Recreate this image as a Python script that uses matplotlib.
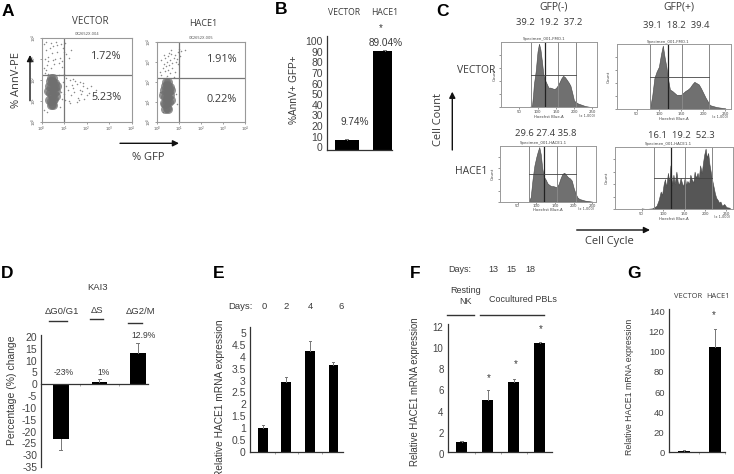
import matplotlib
matplotlib.use('Agg')
import matplotlib.pyplot as plt
from matplotlib.transforms import ScaledTranslation

W, H = 734, 474
TXT = '#3a3a3a'
ARIAL = 'Liberation Sans'
CALIBRI = 'Open Sans'

# panel A, flow cytometry, decades on both axes
vec_cluster_x = [.30, .38, .46, .54, .62, .34, .42, .50, .58, .66, .32, .40, .48, .56, .64, .36, .44, .52, .60, .42, .50, .46, .40, .52]
vec_cluster_y = [1.45, 1.35, 1.25, 1.35, 1.45, 1.7, 1.65, 1.6, 1.65, 1.7, 1.05, 1.0, 1.05, 1.1, 1.2, 1.95, 1.95, 1.9, 1.85, 2.1, 2.1, .85, .8, .8]
vec_sparse_x = [.1, .2, .35, .5, .7, .85, .95, 1.1, 1.3, .15, .3, .45, .6, .8, 1.0, 1.2, .25, .55, .75, .9, .4, .65, .3, .5, .9, .2, .7, 1.05, .12, .4,
                .95, 1.1, 1.25, 1.4, 1.55, 1.7, 1.85, 2.0, 2.2, 2.4, 1.0, 1.15, 1.3, 1.45, 1.6, 1.75, 1.9, 2.1, 2.3, 1.05, 1.2, 1.35, 1.5, 1.65, 1.8, 1.1, 1.4, 1.7, 2.0, 1.25, 1.55, 1.85,
                .15, .3, .75, .85, .1, .9, .25, .8, 1.0, .2]
vec_sparse_y = [3.7, 3.4, 3.5, 3.6, 3.3, 3.7, 3.5, 3.2, 3.4, 3.0, 3.1, 3.25, 3.0, 3.05, 3.3, 3.05, 2.7, 2.75, 2.8, 2.6, 3.75, 3.8, 2.9, 2.95, 2.9, 3.8, 3.65, 3.75, 2.55, 2.55,
                1.9, 1.7, 2.0, 1.6, 1.8, 1.5, 1.85, 1.6, 1.7, 1.5, 1.3, 1.5, 1.25, 1.4, 1.15, 1.3, 1.1, 1.35, 1.2, 1.05, 1.0, 1.75, 1.95, 1.05, 1.45, 2.1, 2.05, 1.9, 1.25, .9, .95, 1.7,
                2.3, 2.25, 2.2, 1.4, .55, 1.1, .45, .7, 2.25, 2.45]
hace_cluster_x = [.28, .36, .44, .52, .60, .32, .40, .48, .56, .64, .30, .38, .46, .54, .62, .36, .44, .52, .58, .40, .48, .44, .38, .50]
hace_cluster_y = [1.35, 1.25, 1.2, 1.25, 1.35, 1.6, 1.55, 1.5, 1.55, 1.6, .95, .9, .95, 1.0, 1.1, 1.8, 1.85, 1.8, 1.75, 2.0, 2.0, .7, .65, .65]
hace_sparse_x = [.2, .35, .5, .65, .8, .95, 1.1, 1.25, .3, .45, .6, .75, .9, 1.05, .25, .4, .55, .7, .85, .15, .35, .5, .7, .95, .2, .45, .6, .8, .3, .55, 1.0, .65, .4, .75, .9, .12, .25, .85]
hace_sparse_y = [3.1, 3.2, 3.3, 3.4, 3.35, 3.5, 3.55, 3.6, 2.9, 3.0, 3.1, 3.2, 3.15, 3.3, 2.7, 2.8, 2.85, 2.95, 3.0, 2.5, 2.55, 2.6, 2.7, 2.9, 2.35, 2.3, 2.45, 2.5, 3.35, 3.45, 3.65, 3.6, 2.2, 2.25, .9, 1.5, .5, 1.4]
decade_labels = ['10$^0$', '10$^1$', '10$^2$', '10$^3$', '10$^4$']

# panel B
b_groups = ['VECTOR', 'HACE1']
b_values = [10, 94]
b_errors = [0.8, 0.5]
b_ticks = [0, 10, 20, 30, 40, 50, 60, 70, 80, 90, 100]

# panel C, cell cycle histograms (percent of axis height)
tl_x = [80, 85, 88, 90, 95, 100, 104, 108, 112, 116, 120, 125, 130, 135, 140, 145, 150, 155, 160, 165, 170, 175, 180, 185, 190, 195, 200, 205, 210, 215, 220, 225, 230, 240, 250]
tl_y = [1, 3, 20, 35, 55, 85, 97, 88, 70, 50, 42, 36, 30, 30, 29, 28, 29, 33, 38, 44, 48, 46, 42, 38, 33, 22, 10, 8, 6, 5, 4, 3, 2, 1, 0]
tr_x = [80, 85, 90, 95, 100, 105, 109, 113, 117, 121, 125, 130, 135, 140, 145, 150, 155, 160, 165, 170, 175, 180, 185, 190, 195, 200, 205, 210, 215, 220, 225, 230, 240, 250]
tr_y = [1, 20, 48, 58, 65, 85, 98, 80, 65, 45, 30, 28, 25, 22, 22, 22, 25, 28, 30, 33, 38, 42, 40, 38, 32, 25, 18, 12, 6, 5, 4, 3, 2, 1]
bl_x = [80, 85, 90, 95, 100, 104, 108, 112, 116, 120, 125, 130, 135, 140, 145, 150, 155, 160, 165, 170, 175, 180, 185, 190, 195, 200, 205, 210, 215, 220, 225, 230, 240, 250]
bl_y = [1, 8, 40, 65, 80, 90, 98, 85, 60, 45, 40, 33, 30, 28, 28, 27, 26, 32, 42, 50, 52, 48, 44, 42, 38, 25, 15, 8, 5, 4, 3, 2, 1, 0]
br_x = [50, 60, 75, 85, 90, 95, 98, 102, 105, 108, 112, 115, 118, 122, 125, 128, 132, 135, 138, 142, 145, 148, 152, 155, 158, 162, 165, 168, 172, 175, 178, 182, 185, 188, 192, 195, 198, 201, 204, 207, 210, 213, 216, 220, 223, 226, 230, 233, 236, 240, 245, 250, 258]
br_y = [1, 0, 1, 5, 14, 28, 22, 40, 48, 35, 58, 42, 70, 38, 55, 40, 60, 44, 38, 50, 42, 36, 52, 38, 45, 40, 55, 48, 42, 60, 50, 58, 48, 70, 58, 75, 88, 97, 82, 90, 72, 60, 48, 35, 25, 18, 14, 10, 12, 5, 8, 3, 2]

# panel D
d_values = [-23, 1.1, 13]
d_errors = [4.8, 1, 4.5]
d_ticks = [20, 15, 10, 5, 0, -5, -10, -15, -20, -25, -30, -35]

# panel E
e_values = [1.03, 2.94, 4.22, 3.66]
e_errors = [0.11, 0.21, 0.43, 0.11]
e_ticks = [0, 0.5, 1, 1.5, 2, 2.5, 3, 3.5, 4, 4.5, 5]
e_ticklabels = ['0', '0.5', '1', '1.5', '2', '2.5', '3', '3.5', '4', '4.5', '5']

# panel F
f_values = [0.95, 4.93, 6.64, 10.36]
f_errors = [0.09, 0.97, 0.28, 0.06]
f_ticks = [0, 2, 4, 6, 8, 10, 12]

# panel G
g_values = [1.5, 104.5]
g_errors = [0.5, 18.2]
g_ticks = [0, 20, 40, 60, 80, 100, 120, 140]

fig = plt.figure(figsize=(W / 100, H / 100), dpi=100)


def px_axes(left, top, right, bottom):
    # axes placed by pixel box of the reference
    return fig.add_axes([left / W, 1 - bottom / H, (right - left) / W, (bottom - top) / H])


def put(x, y, s, size=7.5, family=ARIAL, rot=0, color=TXT, weight='normal'):
    fig.text(x / W, 1 - y / H, s, fontsize=size, family=family, rotation=rot, color=color,
             weight=weight, ha='center', va='center')


def arrow(x0, y0, x1, y1):
    ax_bg.annotate('', xy=(x1, y1), xytext=(x0, y0),
                   arrowprops=dict(arrowstyle='-|>', color='#111111', lw=1, mutation_scale=9, shrinkA=0, shrinkB=0))


def rule(x0, x1, y):
    ax_bg.plot([x0, x1], [y, y], color='#333333', lw=1)


ax_bg = fig.add_axes([0, 0, 1, 1])
ax_bg.set_xlim(0, W)
ax_bg.set_ylim(H, 0)
ax_bg.axis('off')


def flow_plot(box, cluster_x, cluster_y, sparse_x, sparse_y, gate_x, gate_y, name):
    ax = px_axes(*box)
    ax.set_xlim(0, 4)
    ax.set_ylim(0, 4)
    ax.scatter(sparse_x, sparse_y, s=1.2, color='#8a8a8a', lw=0)
    ax.scatter(cluster_x, cluster_y, s=42, color='#6f6f6f', lw=0, alpha=0.75)
    ax.axvline(gate_x, color='#777777', lw=0.9)
    ax.axhline(gate_y, color='#777777', lw=0.9)
    ax.set_xticks(range(5), decade_labels)
    ax.set_yticks(range(5), decade_labels, rotation=90, va='center')
    ax.tick_params(labelsize=2.8, length=1.5, width=0.4, pad=0.5, colors='#555555')
    for s in ax.spines.values():
        s.set_color('#999999')
        s.set_linewidth(0.8)
    ax.text(2, 4.06, name, fontsize=2.6, ha='center', va='bottom', color='#555555')
    return ax


def hist_plot(box, xs, ys, xlim, gates, level, fill, name):
    ax = px_axes(*box)
    ax.fill_between(xs, ys, color=fill, lw=0.4, edgecolor='#444444')
    ax.set_xlim(*xlim)
    ax.set_ylim(0, 100)
    for i, g in enumerate(gates):
        ax.axvline(g, color='#222222' if i == 1 else '#888888', lw=0.9 if i == 1 else 0.7)
    ax.plot([gates[0], gates[3]], [level, level], color='#444444', lw=0.6)
    ax.set_xticks([50, 100, 150, 200, 250], ['50', '100', '150', '200', '250'])
    ax.set_yticks([0, 20, 40, 60, 80])
    ax.set_yticklabels([])
    ax.tick_params(labelsize=2.8, length=1.5, width=0.4, pad=0.5, colors='#444444')
    for s in ax.spines.values():
        s.set_color('#999999')
        s.set_linewidth(0.7)
    ax.text(0.45, 1.01, name, transform=ax.transAxes, fontsize=2.8, ha='center', va='bottom', color='#444444')
    ax.text(0.5, -0.155, 'Hoechst Blue-A', transform=ax.transAxes, fontsize=2.8, ha='center', va='center', color='#444444')
    ax.text(0.98, -0.13, '(x 1,000)', transform=ax.transAxes, fontsize=2.5, ha='right', va='center', color='#444444')
    ax.text(-0.07, 0.5, 'Count', transform=ax.transAxes, fontsize=3, rotation=90, ha='center', va='center', color='#444444')
    return ax


def bar_panel(box, positions, values, errors, width, xlim, ylim, ticks, ticklabels=None, nudge=0, size=7.5, xticks=()):
    ax = px_axes(*box)
    for p, v, e in zip(positions, values, errors):
        ax.bar(p, v, width=width, color='black')
        tip = v + e if v > 0 else v - e
        ax.plot([p, p], [v, tip], color='#777777', lw=0.7)
        ax.plot([p - 0.04, p + 0.04], [tip, tip], color='#777777', lw=0.7)
    ax.set_xlim(*xlim)
    ax.set_ylim(*ylim)
    ax.set_yticks(ticks, ticklabels if ticklabels else [str(t).replace('-', '-') for t in ticks])
    ax.set_xticks(list(xticks), [])
    ax.tick_params(axis='y', length=0, pad=3, labelsize=size, labelcolor='#444444')
    ax.tick_params(axis='x', length=1.5, width=0.5, color='#888888')
    for s in ['top', 'right']:
        ax.spines[s].set_visible(False)
    ax.spines['left'].set_linewidth(0.9)
    ax.spines['bottom'].set_linewidth(0.9)
    ax.spines['left'].set_color('#333333')
    ax.spines['bottom'].set_color('#333333')
    ax.patch.set_alpha(0)
    for lab in ax.get_yticklabels():
        lab.set_fontfamily(ARIAL)
        lab.set_transform(lab.get_transform() + ScaledTranslation(0, nudge / 100, fig.dpi_scale_trans))
    return ax


# A
flow_plot((41.7, 37.7, 131.7, 121.7), vec_cluster_x, vec_cluster_y, vec_sparse_x, vec_sparse_y, 1.0, 2.2, 'CK2652X.004')
flow_plot((157, 41.7, 245, 122), hace_cluster_x, hace_cluster_y, hace_sparse_x, hace_sparse_y, 1.0, 2.2, 'CK2652X.005')
put(8, 11, 'A', 12.5, weight='bold', color='black')
put(90.7, 21.7, 'VECTOR', 7, CALIBRI)
put(203.3, 23.3, 'HACE1', 6.5, CALIBRI)
put(106.7, 56.7, '1.72%', 7.8, CALIBRI)
put(106, 97.7, '5.23%', 7.8, CALIBRI)
put(222, 60, '1.91%', 7.8, CALIBRI)
put(222, 99.3, '0.22%', 7.8, CALIBRI)
put(16.7, 80, '% AnnV-PE', 8, CALIBRI, rot=90)
put(148.3, 157.7, '% GFP', 8, CALIBRI)
arrow(30, 100.7, 30, 55)
arrow(120, 143.3, 179, 143.3)

# B
bar_panel((327, 36, 392, 150.3), [0, 1], b_values, b_errors, 0.62, (-0.52, 0.99 + 0.2), (0, 107.8), b_ticks, nudge=3)
put(281.5, 9, 'B', 12.5, weight='bold', color='black')
put(344.3, 12.7, b_groups[0], 6.2, CALIBRI)
put(385, 12.7, b_groups[1], 6.2, CALIBRI)
put(381, 28.5, '*', 7)
put(385.3, 42.7, '89.04%', 7.2)
put(355, 122.3, '9.74%', 7.2)
put(294, 89.3, '%AnnV+ GFP+', 7.2, rot=90)

# C
hist_plot((501, 41.7, 596.7, 107.3), tl_x, tl_y, (0, 262), (82, 121, 155, 206), 50, '#707070', 'Specimen_001-FMO.1')
hist_plot((616.7, 44.3, 730.7, 109), tr_x, tr_y, (5, 262), (80, 121, 152, 213), 50, '#707070', 'Specimen_001-FMO.1')
hist_plot((499.7, 146, 596, 201.7), bl_x, bl_y, (2, 260), (81, 120, 155, 206), 50, '#707070', 'Specimen_001-HACE1.1')
hist_plot((615, 146.7, 732.7, 209), br_x, br_y, (-13, 265), (78, 120, 152, 215), 50, '#565656', 'Specimen_001-HACE1.1')
put(442.5, 11, 'C', 12.5, weight='bold', color='black')
put(554, 6.7, 'GFP(-)', 7.5, CALIBRI)
put(678.7, 7, 'GFP(+)', 7.5, CALIBRI)
put(549, 22.7, '39.2  19.2  37.2', 6.8, CALIBRI)
put(676.7, 26, '39.1  18.2  39.4', 6.8, CALIBRI)
put(545.7, 134, '29.6 27.4 35.8', 6.8, CALIBRI)
put(681, 136, '16.1  19.2  52.3', 6.8, CALIBRI)
put(476, 70.7, 'VECTOR', 7.5, CALIBRI)
put(471, 171.7, 'HACE1', 7.5, CALIBRI)
put(438.3, 120, 'Cell Count', 8, CALIBRI, rot=90)
put(609.3, 241.7, 'Cell Cycle', 8, CALIBRI)
arrow(452.3, 150, 452.3, 91.7)
arrow(576.7, 230, 650, 230)

# D
ax_d = bar_panel((41.3, 335, 148.3, 467), [0, 1, 2], d_values, d_errors, 0.41, (-0.51, 2.27), (-34.6, 20.8), d_ticks)
ax_d.spines['bottom'].set_position(('data', 0))
ax_d.set_xticks([0.5, 1.5], [])
put(7, 273.5, 'D', 12.5, weight='bold', color='black')
put(98, 287, 'KAI3', 6.8)
put(61.7, 312, '\u0394G0/G1', 6.8)
put(97, 310.7, '\u0394S', 6.8)
put(140.7, 312, '\u0394G2/M', 6.8)
rule(49, 67, 321)
rule(90, 103, 319.3)
rule(128, 141.7, 323.3)
put(63.7, 372.3, '-23%', 6.2)
put(104, 372.5, '1%', 6.2)
put(144, 336, '12.9%', 6.2)
put(11.7, 390.7, 'Percentage (%) change', 7.5, rot=90)

# E
bar_panel((250, 326.7, 343.3, 452.3), [0, 1, 2, 3], e_values, e_errors, 0.41, (-0.54, 3.42), (0, 5.25), e_ticks, e_ticklabels, xticks=[0.5, 1.5, 2.5])
put(218.5, 273.5, 'E', 12.5, weight='bold', color='black')
put(240, 306.7, 'Days:', 6.8)
put(264, 306.7, '0', 6.8)
put(286, 306.7, '2', 6.8)
put(310.7, 306.7, '4', 6.8)
put(341, 306.7, '6', 6.8)
put(220, 398, 'Relative HACE1 mRNA expression', 7.3, rot=90)

# F
bar_panel((447.7, 324, 551.7, 452.3), [0, 1, 2, 3], f_values, f_errors, 0.42, (-0.53, 3.46), (0, 12.16), f_ticks, nudge=-1.5, xticks=[0.5, 1.5, 2.5], size=7)
put(415, 273, 'F', 12.5, weight='bold', color='black')
put(460, 270, 'Days:', 6.5)
put(493.3, 270, '13', 6.5)
put(511, 270, '15', 6.5)
put(530.7, 270, '18', 6.5)
put(465.3, 290.7, 'Resting', 6.5)
put(465, 301, 'NK', 6.5)
put(522.7, 299.3, 'Cocultured PBLs', 6.5)
rule(447.3, 474.3, 315)
rule(480, 544, 315)
put(488.7, 378, '*', 7)
put(515.7, 364.5, '*', 7)
put(540.7, 329.5, '*', 7)
put(414.7, 391.7, 'Relative HACE1 mRNA expression', 6.9, rot=90)

# G
bar_panel((668.7, 309.3, 725, 452.3), [0, 1], g_values, g_errors, 0.41, (-0.5, 1.33), (0, 142.3), g_ticks, size=6.8, xticks=[0.5, 1.33])
put(634, 274, 'G', 12.5, weight='bold', color='black')
put(688, 296.7, b_groups[0], 5.4, CALIBRI)
put(718.3, 296.7, b_groups[1], 5.4, CALIBRI)
put(714, 315, '*', 7)
put(630, 386.7, 'Relative HACE1 mRNA expression', 6.3, rot=90)

fig.savefig('out.png', dpi=100)
